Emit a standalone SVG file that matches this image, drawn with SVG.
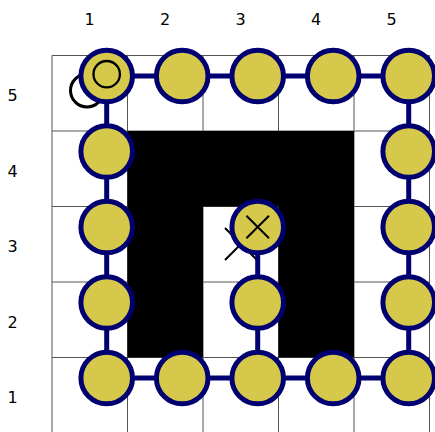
<svg xmlns="http://www.w3.org/2000/svg" width="435" height="432" viewBox="0 0 435 432">
<style>
.lbl{font-family:"DejaVu Sans","Liberation Sans",sans-serif;font-size:16px;fill:#000;text-anchor:middle}
.grid{stroke:#555;stroke-width:1;fill:none}
.edge{stroke:#000070;stroke-width:5;fill:none}
.node{fill:#D5C84B;stroke:#000070;stroke-width:5}
.mark{stroke:#000;fill:none}
</style>
<rect width="435" height="432" fill="#fff"/>
<g id="labels">
<text class="lbl" x="89.5" y="25">1</text>
<text class="lbl" x="165" y="25">2</text>
<text class="lbl" x="240.5" y="25">3</text>
<text class="lbl" x="316" y="25">4</text>
<text class="lbl" x="391.5" y="25">5</text>
<text class="lbl" x="12.5" y="101">5</text>
<text class="lbl" x="12.5" y="176.5">4</text>
<text class="lbl" x="12.5" y="252">3</text>
<text class="lbl" x="12.5" y="327.5">2</text>
<text class="lbl" x="12.5" y="403">1</text>
</g>
<g id="grid" class="grid">
<path d="M52,55.5V432M127.5,55.5V432M203,55.5V432M278.5,55.5V432M354,55.5V432M429.5,55.5V432"/>
<path d="M52,55.5H429.5M52,131H429.5M52,206.5H429.5M52,282H429.5M52,357.5H429.5"/>
</g>
<path id="walls" d="M127.5,131H354V357.5H278.5V206.5H203V357.5H127.5Z" fill="#000"/>
<g id="targets">
<path class="mark" stroke-width="2" d="M225,228L257,260M225,260L257,228"/>
<circle class="mark" stroke-width="3" cx="87" cy="90.5" r="16.5"/>
</g>
<g id="connectors" class="edge">
<path d="M106.7,76H408.7V378H106.7Z"/>
<path d="M257.7,227V378"/>
</g>
<g id="n15"><circle class="node" cx="106.7" cy="76" r="25.8"/><circle class="mark" stroke-width="2.3" cx="106.7" cy="74.2" r="13.2"/></g>
<g id="n25"><circle class="node" cx="182.2" cy="76" r="25.8"/></g>
<g id="n35"><circle class="node" cx="257.7" cy="76" r="25.8"/></g>
<g id="n45"><circle class="node" cx="333.2" cy="76" r="25.8"/></g>
<g id="n55"><circle class="node" cx="408.7" cy="76" r="25.8"/></g>
<g id="n14"><circle class="node" cx="106.7" cy="151.5" r="25.8"/></g>
<g id="n54"><circle class="node" cx="408.7" cy="151.5" r="25.8"/></g>
<g id="n13"><circle class="node" cx="106.7" cy="227" r="25.8"/></g>
<g id="n33"><circle class="node" cx="257.7" cy="227" r="25.8"/><path class="mark" stroke-width="2" d="M246.4,215.7L269,238.3M246.4,238.3L269,215.7"/></g>
<g id="n53"><circle class="node" cx="408.7" cy="227" r="25.8"/></g>
<g id="n12"><circle class="node" cx="106.7" cy="302.5" r="25.8"/></g>
<g id="n32"><circle class="node" cx="257.7" cy="302.5" r="25.8"/></g>
<g id="n52"><circle class="node" cx="408.7" cy="302.5" r="25.8"/></g>
<g id="n11"><circle class="node" cx="106.7" cy="378" r="25.8"/></g>
<g id="n21"><circle class="node" cx="182.2" cy="378" r="25.8"/></g>
<g id="n31"><circle class="node" cx="257.7" cy="378" r="25.8"/></g>
<g id="n41"><circle class="node" cx="333.2" cy="378" r="25.8"/></g>
<g id="n51"><circle class="node" cx="408.7" cy="378" r="25.8"/></g>
</svg>
